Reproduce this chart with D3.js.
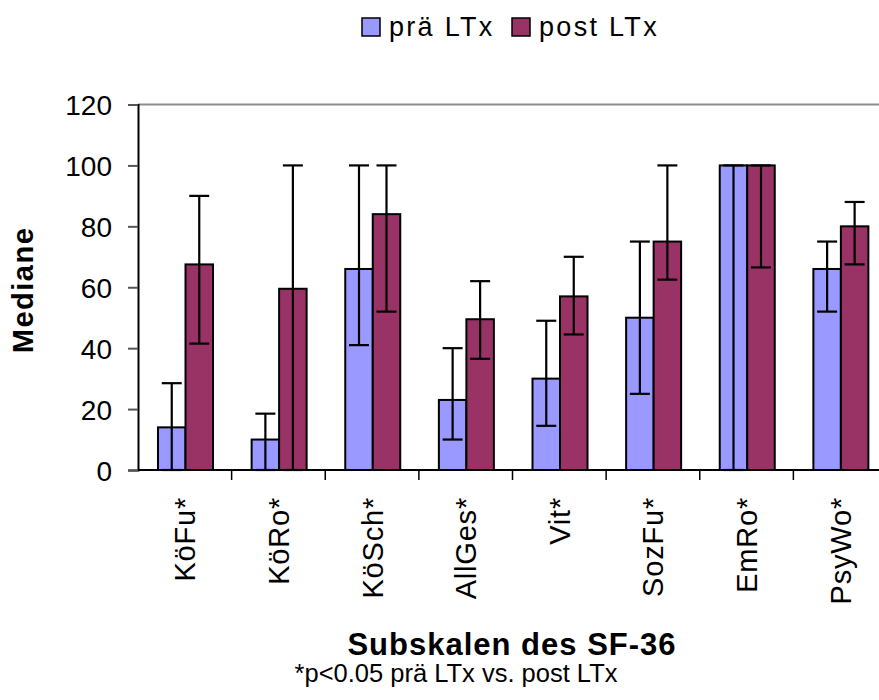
<!DOCTYPE html>
<html>
<head>
<meta charset="utf-8">
<script src="https://cdn.jsdelivr.net/npm/d3@7"></script>
<style>
  body { margin: 0; background: #fff; }
  text { font-family: "Liberation Sans", Arial, sans-serif; fill: #000; }
</style>
</head>
<body>
<div class="chart"></div>
<script>
//Canvas dimensions
var width = 879,
    height = 700;

var margin = { top: 104.5, left: 138, right: -8, bottom: 230 };

//Data
var categories = ["KöFu*", "KöRo*", "KöSch*", "AllGes*", "Vit*", "SozFu*", "EmRo*", "PsyWo*"];
var seriesNames = ["prä LTx", "post LTx"];
var preValues  = [14, 10, 66, 23, 30, 50, 100, 66];
var preUpper   = [28.5, 18.5, 100, 40, 49, 75, 100, 75];
var preLower   = [0, 0, 41, 10, 14.5, 25, 0, 52];
var postValues = [67.5, 59.5, 84, 49.5, 57, 75, 100, 80];
var postUpper  = [90, 100, 100, 62, 70, 100, 100, 88];
var postLower  = [41.5, 0, 52, 36.5, 44.5, 62.5, 66.5, 67.5];
var yTicks = [0, 20, 40, 60, 80, 100, 120];

var colors = ["#9999ff", "#993366"];

//Rows built from the arrays
var rows = categories.map(function(c, i) {
  return {
    cat: c,
    bars: [
      { key: 0, value: preValues[i], hi: preUpper[i], lo: preLower[i] },
      { key: 1, value: postValues[i], hi: postUpper[i], lo: postLower[i] }
    ]
  };
});

var svg = d3.select(".chart")
            .append("svg")
            .attr("width", width)
            .attr("height", height);

//Scales
var x = d3.scaleBand()
          .domain(categories)
          .range([margin.left, width - margin.right]);

var xSub = d3.scaleBand()
             .domain([0, 1])
             .range([20, 75]);

var y = d3.scaleLinear()
          .domain([0, 120])
          .range([height - margin.bottom, margin.top]);

//Top frame line
svg.append("line")
   .attr("x1", margin.left).attr("x2", width)
   .attr("y1", y(120)).attr("y2", y(120))
   .attr("stroke", "#8c8c8c")
   .attr("stroke-width", 2);

//Bars
var groups = svg.selectAll(".grp")
                .data(rows)
                .enter()
                .append("g")
                .attr("class", "grp")
                .attr("transform", function(d) { return "translate(" + x(d.cat) + ",0)"; });

groups.selectAll("rect")
      .data(function(d) { return d.bars; })
      .enter()
      .append("rect")
      .attr("x", function(d) { return xSub(d.key); })
      .attr("width", xSub.bandwidth())
      .attr("y", function(d) { return y(d.value); })
      .attr("height", function(d) { return y(0) - y(d.value); })
      .attr("fill", function(d) { return colors[d.key]; })
      .attr("stroke", "#000")
      .attr("stroke-width", 2);

//Error bars
var err = groups.selectAll(".err")
                .data(function(d) { return d.bars; })
                .enter()
                .append("g")
                .attr("class", "err")
                .attr("stroke", "#000")
                .attr("stroke-width", 2.2);

err.append("line")
   .attr("x1", function(d) { return xSub(d.key) + xSub.bandwidth() / 2; })
   .attr("x2", function(d) { return xSub(d.key) + xSub.bandwidth() / 2; })
   .attr("y1", function(d) { return y(d.hi); })
   .attr("y2", function(d) { return y(d.lo); });

err.selectAll(".cap")
   .data(function(d) { return [d.hi, d.lo].map(function(v) { return { v: v, key: d.key }; }); })
   .enter()
   .append("line")
   .attr("x1", function(d) { return xSub(d.key) + xSub.bandwidth() / 2 - 10; })
   .attr("x2", function(d) { return xSub(d.key) + xSub.bandwidth() / 2 + 10; })
   .attr("y1", function(d) { return y(d.v); })
   .attr("y2", function(d) { return y(d.v); });

//Y axis
var yAxis = svg.append("g")
               .attr("transform", "translate(" + margin.left + ",0)")
               .call(d3.axisLeft(y).tickValues(yTicks).tickSize(10).tickPadding(16));

yAxis.select(".domain").attr("stroke", "#000").attr("stroke-width", 2);
yAxis.selectAll(".tick line").attr("stroke", "#555").attr("stroke-width", 2);
yAxis.selectAll(".tick text")
     .style("font-size", "28px")
     .attr("dy", "0.36em");

//X axis
var xAxis = svg.append("g")
               .attr("transform", "translate(0," + y(0) + ")");

xAxis.append("line")
     .attr("x1", margin.left).attr("x2", width)
     .attr("stroke", "#000").attr("stroke-width", 2);

xAxis.selectAll(".xtick")
     .data(categories.slice(1))
     .enter()
     .append("line")
     .attr("x1", function(d) { return x(d); })
     .attr("x2", function(d) { return x(d); })
     .attr("y1", 0).attr("y2", 10)
     .attr("stroke", "#000").attr("stroke-width", 1.5);

xAxis.selectAll(".xlabel")
     .data(categories)
     .enter()
     .append("text")
     .attr("class", "xlabel")
     .attr("transform", function(d) { return "translate(" + (x(d) + x.bandwidth() / 2) + ",27) rotate(-90)"; })
     .attr("text-anchor", "end")
     .attr("dy", "0.36em")
     .style("font-size", "29px")
     .style("letter-spacing", "0.8px")
     .text(function(d) { return d; });

//Axis titles
svg.append("text")
   .attr("transform", "translate(33,290) rotate(-90)")
   .attr("text-anchor", "middle")
   .style("font-size", "29px")
   .style("font-weight", "bold")
   .style("letter-spacing", "1.5px")
   .text("Mediane");

svg.append("text")
   .attr("x", 512)
   .attr("y", 655)
   .attr("text-anchor", "middle")
   .style("font-size", "31px")
   .style("font-weight", "bold")
   .style("letter-spacing", "1px")
   .text("Subskalen des SF-36");

svg.append("text")
   .attr("x", 456)
   .attr("y", 682)
   .attr("text-anchor", "middle")
   .style("font-size", "25.5px")
   .text("*p<0.05 prä LTx vs. post LTx");

//Legend
var legend = svg.append("g");
var legendX = [362, 512];

legend.selectAll("rect")
      .data(seriesNames)
      .enter()
      .append("rect")
      .attr("x", function(d, i) { return legendX[i]; })
      .attr("y", 18)
      .attr("width", 18)
      .attr("height", 18)
      .attr("fill", function(d, i) { return colors[i]; })
      .attr("stroke", "#000")
      .attr("stroke-width", 1.5);

legend.selectAll("text")
      .data(seriesNames)
      .enter()
      .append("text")
      .attr("x", function(d, i) { return legendX[i] + 27; })
      .attr("y", 36)
      .style("font-size", "27px")
      .style("letter-spacing", "2.3px")
      .text(function(d) { return d; });
</script>
</body>
</html>
